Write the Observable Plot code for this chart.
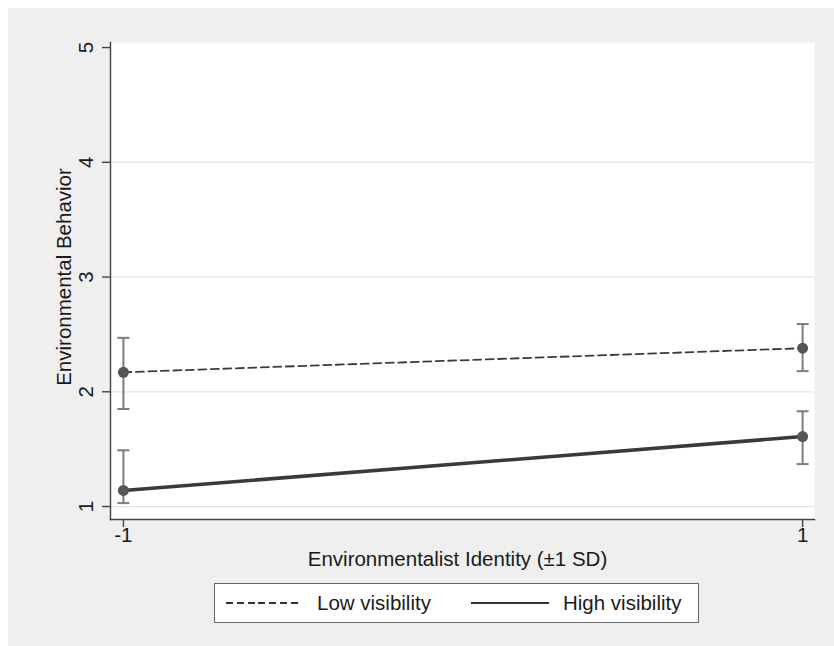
<!DOCTYPE html>
<html>
<head>
<meta charset="utf-8">
<script src="https://cdn.jsdelivr.net/npm/d3@7"></script>
<script src="https://cdn.jsdelivr.net/npm/@observablehq/plot@0.6"></script>
<style>
  body { margin: 0; background: #ffffff; font-family: "Liberation Sans", Arial, Helvetica, sans-serif; }
  #wrap { position: absolute; left: 8px; top: 8px; width: 826px; height: 638px; background: #efefef; overflow: hidden; }
  #legend { position: absolute; left: 206px; top: 575px; width: 483px; height: 38px; background: #fff; border: 1px solid #666; }
  .lg { position: absolute; top: 0; height: 38px; line-height: 38px; font-size: 20.5px; color: #1a1a1a; white-space: nowrap; }
  .ln { position: absolute; top: 18px; height: 1.5px; }
</style>
</head>
<body>
<div id="wrap">
  <div id="chart"></div>
  <div id="legend">
    <div class="ln" style="left:11px; width:72px; background: repeating-linear-gradient(90deg, #333 0 7px, transparent 7px 10.8px);"></div>
    <div class="lg" style="left:102px;">Low visibility</div>
    <div class="ln" style="left:256px; width:78px; background:#333;"></div>
    <div class="lg" style="left:348px;">High visibility</div>
  </div>
</div>
<script>
const xValues = [-1, 1];
const xTickLabels = ["-1", "1"];
const yTicks = [1, 2, 3, 4, 5];
const gridValues = [1, 2, 3, 4];

const lowMean = [2.17, 2.38];
const lowLo = [1.85, 2.18];
const lowHi = [2.47, 2.59];

const highMean = [1.14, 1.61];
const highLo = [1.03, 1.37];
const highHi = [1.49, 1.83];

const xTitle = "Environmentalist Identity (\u00b11 SD)";
const yTitle = "Environmental Behavior";

const low = xValues.map((x, i) => ({x, y: lowMean[i], lo: lowLo[i], hi: lowHi[i], s: "Low visibility"}));
const high = xValues.map((x, i) => ({x, y: highMean[i], lo: highLo[i], hi: highHi[i], s: "High visibility"}));
const all = low.concat(high);

const capSymbol = {
  draw(ctx, size) {
    const w = Math.sqrt(size / Math.PI);
    ctx.moveTo(-w, 0);
    ctx.lineTo(w, 0);
  }
};

const fontFamily = "'Liberation Sans', Arial, Helvetica, sans-serif";
const fs = 20.5;

const chart = Plot.plot({
  width: 826,
  height: 638,
  marginLeft: 102,
  marginRight: 20,
  marginTop: 34,
  marginBottom: 127,
  style: { background: "transparent", fontFamily, color: "#1a1a1a" },
  x: { domain: [-1.038, 1.035], axis: null },
  y: { domain: [0.887, 5.044], axis: null },
  marks: [
    Plot.frame({ fill: "white", stroke: null }),
    Plot.ruleY(gridValues, { stroke: "#e4e4e4", strokeWidth: 1.2 }),
    Plot.frame({ anchor: "left", stroke: "#444", strokeWidth: 1.4 }),
    Plot.frame({ anchor: "bottom", stroke: "#444", strokeWidth: 1.4 }),
    Plot.axisY(yTicks, { tickSize: 8, tickFormat: () => "", stroke: "#444", strokeWidth: 1.4, label: null }),
    Plot.axisX(xValues, { tickSize: 8, tickFormat: () => "", stroke: "#444", strokeWidth: 1.4, label: null }),
    Plot.text(yTicks, { y: d => d, text: d => String(d), frameAnchor: "left", textAnchor: "middle", lineAnchor: "middle", dx: -24, rotate: -90, fontSize: fs, fill: "#1a1a1a" }),
    Plot.text(xValues, { x: d => d, text: (d, i) => xTickLabels[i], frameAnchor: "bottom", dy: 22, fontSize: fs, fill: "#1a1a1a" }),
    Plot.text([xTitle], { text: d => d, frameAnchor: "bottom", dx: -5, dy: 46, fontSize: fs, fill: "#1a1a1a" }),
    Plot.text([yTitle], { text: d => d, frameAnchor: "left", textAnchor: "middle", lineAnchor: "middle", dx: -46, dy: -4, rotate: -90, fontSize: fs, fill: "#1a1a1a" }),
    // error bars
    Plot.ruleX(all, { x: "x", y1: "lo", y2: "hi", stroke: "#7d7d7d", strokeWidth: 2 }),
    Plot.dot(all, { x: "x", y: "lo", symbol: capSymbol, r: 6, stroke: "#7d7d7d", strokeWidth: 2, fill: "none" }),
    Plot.dot(all, { x: "x", y: "hi", symbol: capSymbol, r: 6, stroke: "#7d7d7d", strokeWidth: 2, fill: "none" }),
    // lines
    Plot.line(low, { x: "x", y: "y", stroke: "#3c3c3c", strokeWidth: 1.8, strokeDasharray: "8,4.5" }),
    Plot.line(high, { x: "x", y: "y", stroke: "#3a3a3a", strokeWidth: 3.6 }),
    Plot.dot(all, { x: "x", y: "y", r: 5.5, fill: "#555", stroke: "none" })
  ]
});
document.getElementById("chart").appendChild(chart);
</script>
</body>
</html>
